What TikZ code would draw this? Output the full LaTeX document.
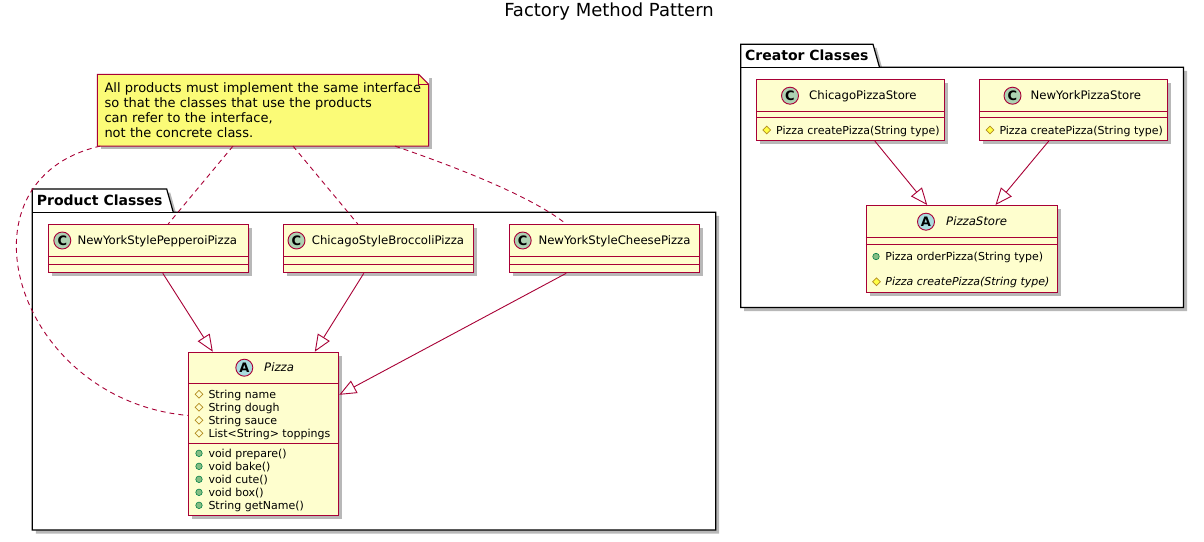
\documentclass[tikz,border=0pt]{standalone}
\usepackage{fontspec}
\setmainfont{DejaVu Sans}
\usetikzlibrary{arrows.meta,positioning,calc,shadows,shapes.geometric}
\definecolor{umlRed}{HTML}{A80036}
\definecolor{umlFill}{HTML}{FEFECE}
\definecolor{noteFill}{HTML}{FBFB77}
\definecolor{classIcon}{HTML}{ADD1B2}
\definecolor{abstractIcon}{HTML}{A9DCDF}
\definecolor{protBorder}{HTML}{B38D22}
\definecolor{protFill}{HTML}{FFFF44}
\definecolor{pubBorder}{HTML}{038048}
\definecolor{pubFill}{HTML}{84BE84}
\tikzset{
  umlshadow/.style={drop shadow={shadow xshift=3.5pt,shadow yshift=-3.5pt,fill=black,opacity=0.28}},
  classbox/.style={draw=umlRed,fill=umlFill,line width=1pt,inner sep=0pt,anchor=north west,umlshadow},
  sepline/.style={draw=umlRed,line width=1pt},
  iconC/.style={circle,draw=umlRed,fill=classIcon,line width=0.9pt,minimum size=17pt,inner sep=0pt,
    font=\bfseries\fontsize{13}{13}\selectfont},
  iconA/.style={iconC,fill=abstractIcon},
  classname/.style={anchor=west,inner sep=0pt,text height=8.5pt,text depth=0pt,font=\fontsize{11.7}{14}\selectfont},
  member/.style={anchor=west,inner sep=0pt,text height=8pt,text depth=0pt,font=\fontsize{11}{13}\selectfont},
  protfield/.style={diamond,draw=protBorder,line width=0.7pt,minimum size=8pt,inner sep=0pt},
  protmethod/.style={protfield,fill=protFill},
  pubmethod/.style={circle,draw=pubBorder,fill=pubFill,line width=0.6pt,minimum size=6.5pt,inner sep=0pt},
  package/.style={draw=black,fill=white,line width=1.2pt,umlshadow},
  pkglabel/.style={anchor=west,inner sep=0pt,font=\bfseries\fontsize{14}{16}\selectfont},
  extends/.style={draw=umlRed,line width=0.9pt,-{Triangle[open,length=17pt,width=14pt]}},
  notelink/.style={draw=umlRed,line width=0.9pt,dash pattern=on 5pt off 4pt},
}

\begin{document}
\begin{tikzpicture}[x=1pt,y=-1pt]
  \useasboundingbox (0,0) rectangle (1204,541);

  \node[font=\fontsize{18}{20}\selectfont] (title) at (609,12) {Factory Method Pattern};

  % packages
  \draw[package] (32.3,189) -- (166.7,189) -- (173.3,212.3) -- (715.7,212.3)
    -- (715.7,530) -- (32.3,530) -- cycle;
  \draw[line width=1.2pt] (32.3,212.3) -- (173.3,212.3);
  \node[pkglabel] (productPkg) at (36.7,200.6) {Product Classes};

  \draw[package] (740.7,44.3) -- (873,44.3) -- (879.5,67.3) -- (1183.5,67.3)
    -- (1183.5,307.5) -- (740.7,307.5) -- cycle;
  \draw[line width=1.2pt] (740.7,67.3) -- (879.5,67.3);
  \node[pkglabel] (creatorPkg) at (745,55.7) {Creator Classes};

  % note
  \node[fill=noteFill,umlshadow,anchor=north west,minimum width=331pt,minimum height=71.4pt,
    inner xsep=7pt,inner ysep=0pt,text width=317pt,align=left,font=\fontsize{13}{15}\selectfont] (note) at (97.3,74.3)
    {All products must implement the same interface\\so that the classes that use the products\\can refer to the interface,\\not the concrete class.};
  \fill[white] ([xshift=-10pt]note.north east) -- ([xshift=0.8pt,yshift=0.8pt]note.north east) -- ([yshift=-10pt]note.north east) -- cycle;
  \draw[umlRed,line width=1pt] (note.south west) -- (note.north west) -- ([xshift=-10pt]note.north east)
    -- ([yshift=-10pt]note.north east) -- (note.south east) -- cycle;
  \draw[umlRed,line width=1pt] ([xshift=-10pt]note.north east) -- ([xshift=-10pt,yshift=-10pt]note.north east)
    -- ([yshift=-10pt]note.north east);

  % product classes
  \node[classbox,minimum width=200pt,minimum height=48.3pt] (pepperoni) at (48.3,224) {};
  \draw[sepline] ([yshift=-32pt]pepperoni.north west) -- ([yshift=-32pt]pepperoni.north east);
  \draw[sepline] ([yshift=-40pt]pepperoni.north west) -- ([yshift=-40pt]pepperoni.north east);
  \node[iconC] (pepperoniIcon) at (62.3,240.5) {C};
  \node[classname] (pepperoniName) at (77.3,240.5) {NewYorkStylePepperoiPizza};

  \node[classbox,minimum width=190pt,minimum height=48.3pt] (broccoli) at (283.3,224) {};
  \draw[sepline] ([yshift=-32pt]broccoli.north west) -- ([yshift=-32pt]broccoli.north east);
  \draw[sepline] ([yshift=-40pt]broccoli.north west) -- ([yshift=-40pt]broccoli.north east);
  \node[iconC] (broccoliIcon) at (296.5,240.5) {C};
  \node[classname] (broccoliName) at (311.7,240.5) {ChicagoStyleBroccoliPizza};

  \node[classbox,minimum width=190.3pt,minimum height=48.3pt] (cheese) at (509,224) {};
  \draw[sepline] ([yshift=-32pt]cheese.north west) -- ([yshift=-32pt]cheese.north east);
  \draw[sepline] ([yshift=-40pt]cheese.north west) -- ([yshift=-40pt]cheese.north east);
  \node[iconC] (cheeseIcon) at (522.7,240.5) {C};
  \node[classname] (cheeseName) at (538.3,240.5) {NewYorkStyleCheesePizza};

  \node[classbox,minimum width=150pt,minimum height=163.6pt] (pizza) at (188.3,351.7) {};
  \draw[sepline] ([yshift=-31.6pt]pizza.north west) -- ([yshift=-31.6pt]pizza.north east);
  \draw[sepline] ([yshift=-91.3pt]pizza.north west) -- ([yshift=-91.3pt]pizza.north east);
  \node[iconA] (pizzaIcon) at (244.3,367.7) {A};
  \node[classname,font=\itshape\fontsize{11.7}{14}\selectfont] (pizzaName) at (264,367.7) {Pizza};
  \node[member] (pizzaA1) at (208.3,394.3) {String name};
  \node[member] (pizzaA2) at (208.3,407.3) {String dough};
  \node[member] (pizzaA3) at (208.3,420.3) {String sauce};
  \node[member] (pizzaA4) at (208.3,433.3) {List<String> toppings};
  \node[protfield] (pizzaA1Icon) at (199,394.3) {};
  \node[protfield] (pizzaA2Icon) at (199,407.3) {};
  \node[protfield] (pizzaA3Icon) at (199,420.3) {};
  \node[protfield] (pizzaA4Icon) at (199,433.3) {};
  \node[member] (pizzaM1) at (208.3,453.3) {void prepare()};
  \node[member] (pizzaM2) at (208.3,466.3) {void bake()};
  \node[member] (pizzaM3) at (208.3,479.3) {void cute()};
  \node[member] (pizzaM4) at (208.3,492.3) {void box()};
  \node[member] (pizzaM5) at (208.3,505.3) {String getName()};
  \node[pubmethod] (pizzaM1Icon) at (199,453.3) {};
  \node[pubmethod] (pizzaM2Icon) at (199,466.3) {};
  \node[pubmethod] (pizzaM3Icon) at (199,479.3) {};
  \node[pubmethod] (pizzaM4Icon) at (199,492.3) {};
  \node[pubmethod] (pizzaM5Icon) at (199,505.3) {};

  % creator classes
  \node[classbox,minimum width=188pt,minimum height=60.7pt] (chicagoStore) at (756,79.3) {};
  \draw[sepline] ([yshift=-31.7pt]chicagoStore.north west) -- ([yshift=-31.7pt]chicagoStore.north east);
  \draw[sepline] ([yshift=-38.4pt]chicagoStore.north west) -- ([yshift=-38.4pt]chicagoStore.north east);
  \node[iconC] (chicagoStoreIcon) at (790,95.7) {C};
  \node[classname] (chicagoStoreName) at (809,95.7) {ChicagoPizzaStore};
  \node[protmethod] (chicagoStoreM1Icon) at (766.7,130) {};
  \node[member] (chicagoStoreM1) at (776,130) {Pizza createPizza(String type)};

  \node[classbox,minimum width=188pt,minimum height=60.7pt] (nyStore) at (979.3,79.3) {};
  \draw[sepline] ([yshift=-31.7pt]nyStore.north west) -- ([yshift=-31.7pt]nyStore.north east);
  \draw[sepline] ([yshift=-38.4pt]nyStore.north west) -- ([yshift=-38.4pt]nyStore.north east);
  \node[iconC] (nyStoreIcon) at (1012.5,95.7) {C};
  \node[classname] (nyStoreName) at (1030.5,95.7) {NewYorkPizzaStore};
  \node[protmethod] (nyStoreM1Icon) at (990,130) {};
  \node[member] (nyStoreM1) at (999.3,130) {Pizza createPizza(String type)};

  \node[classbox,minimum width=191.6pt,minimum height=87.3pt] (pizzaStore) at (865.7,205) {};
  \draw[sepline] ([yshift=-32.3pt]pizzaStore.north west) -- ([yshift=-32.3pt]pizzaStore.north east);
  \draw[sepline] ([yshift=-39pt]pizzaStore.north west) -- ([yshift=-39pt]pizzaStore.north east);
  \node[iconA] (pizzaStoreIcon) at (926,221.7) {A};
  \node[classname,font=\itshape\fontsize{11.7}{14}\selectfont] (pizzaStoreName) at (946,221.7) {PizzaStore};
  \node[pubmethod] (pizzaStoreM1Icon) at (876,256.5) {};
  \node[member] (pizzaStoreM1) at (885.2,256.5) {Pizza orderPizza(String type)};
  \node[protmethod] (pizzaStoreM2Icon) at (876.5,281.7) {};
  \node[member,font=\itshape\fontsize{11}{13}\selectfont] (pizzaStoreM2) at (885.2,281.7) {Pizza createPizza(String type)};

  % inheritance
  \draw[extends] ([xshift=14pt]pepperoni.south) -- ([xshift=-51pt]pizza.north);
  \draw[extends] ([xshift=-15pt]broccoli.south) -- ([xshift=51pt]pizza.north);
  \draw[extends] ([xshift=-38.5pt]cheese.south) -- ([yshift=39.2pt]pizza.east);
  \draw[extends] ([xshift=24.3pt]chicagoStore.south) -- ([xshift=-34.8pt]pizzaStore.north);
  \draw[extends] ([xshift=-25pt]nyStore.south) -- ([xshift=33.5pt]pizzaStore.north);

  % note links
  \draw[notelink] ([xshift=3pt]note.south west) .. controls (-50,180) and (15,400) .. ([yshift=18.5pt]pizza.west);
  \draw[notelink] ([xshift=135.7pt]note.south west) -- ([xshift=19.4pt]pepperoni.north);
  \draw[notelink] ([xshift=195.7pt]note.south west) -- ([xshift=-21pt]broccoli.north);
  \draw[notelink] ([xshift=297.7pt]note.south west) .. controls (450,165) and (530,195) .. ([xshift=-38.5pt]cheese.north);
\end{tikzpicture}
\end{document}
